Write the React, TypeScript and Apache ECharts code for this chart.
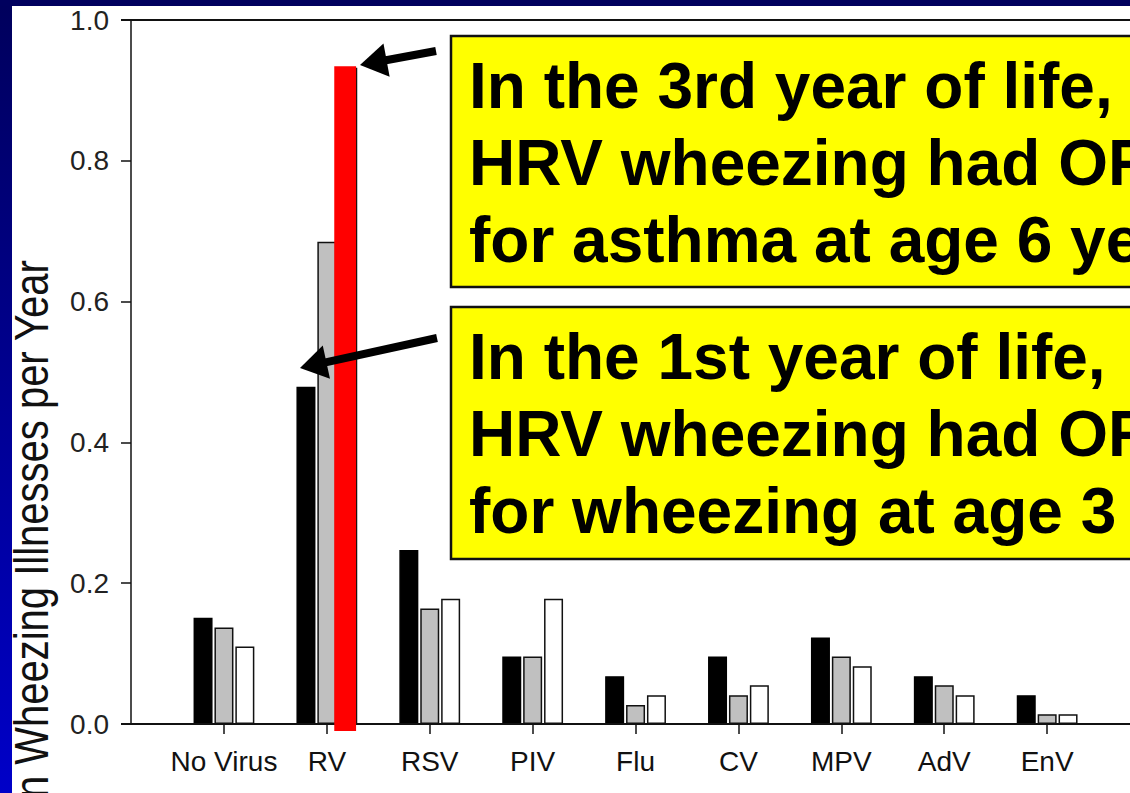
import React, { useEffect, useRef } from 'react';
import * as echarts from 'echarts';

// ---------- data ----------
const categories = ['No Virus', 'RV', 'RSV', 'PIV', 'Flu', 'CV', 'MPV', 'AdV', 'EnV'];
const year1 = [0.151, 0.479, 0.247, 0.096, 0.068, 0.096, 0.123, 0.068, 0.041];
const year2 = [0.137, 0.685, 0.164, 0.096, 0.027, 0.041, 0.096, 0.055, 0.014];
const year3 = [0.110, 0.932, 0.178, 0.178, 0.041, 0.055, 0.082, 0.041, 0.014];
const yMin = 0;
const yMax = 1.0;
const yStep = 0.2;
const highlightCategory = 'RV';
const yAxisTitle = 'Mean Wheezing Illnesses per Year';
const callout1 = ['In the 3rd year of life,', 'HRV wheezing had OR', 'for asthma at age 6 years'];
const callout2 = ['In the 1st year of life,', 'HRV wheezing had OR', 'for wheezing at age 3 years'];

const SANS = '"Liberation Sans", Arial, Helvetica, sans-serif';

function arrow(tail: number[], tip: number[], z: number) {
  const dx = tip[0] - tail[0];
  const dy = tip[1] - tail[1];
  const len = Math.sqrt(dx * dx + dy * dy);
  const ux = dx / len, uy = dy / len;
  const nx = -uy, ny = ux;
  const headLen = 27, halfW = 17;
  const bx = tip[0] - ux * headLen, by = tip[1] - uy * headLen;
  return [
    {
      type: 'polyline',
      z,
      silent: true,
      shape: { points: [tail, [bx + ux * 2, by + uy * 2]] },
      style: { stroke: '#000', lineWidth: 8, fill: null },
    },
    {
      type: 'polygon',
      z,
      silent: true,
      shape: { points: [tip, [bx + nx * halfW, by + ny * halfW], [bx - nx * halfW, by - ny * halfW]] },
      style: { fill: '#000' },
    },
  ];
}

export default function App() {
  const ref = useRef<HTMLDivElement>(null);

  useEffect(() => {
    document.body.style.margin = '0';
    if (!ref.current) return;
    const chart = echarts.init(ref.current, null, { renderer: 'svg' });
    const hiIdx = categories.indexOf(highlightCategory);

    const barBase = { type: 'bar', barWidth: 19, barGap: '10%', z: 3 };
    chart.setOption({
      animation: false,
      backgroundColor: '#ffffff',
      grid: { left: 172.5, right: 31.4, top: 20, bottom: 69, containLabel: false },
      xAxis: {
        type: 'category',
        data: categories,
        axisLine: { show: true, lineStyle: { color: '#111', width: 1.5 } },
        axisTick: { show: true, alignWithLabel: true, length: 10, lineStyle: { color: '#111', width: 1.5 } },
        axisLabel: { color: '#111', fontSize: 28, fontFamily: SANS, margin: 23, interval: 0, hideOverlap: false },
        splitLine: { show: false },
      },
      yAxis: {
        type: 'value',
        min: yMin,
        max: yMax,
        interval: yStep,
        offset: 41.5,
        axisLine: { show: true, lineStyle: { color: '#111', width: 1.5 } },
        axisTick: { show: true, length: 10, lineStyle: { color: '#111', width: 1.5 } },
        axisLabel: {
          color: '#222',
          fontSize: 28,
          fontFamily: SANS,
          margin: 22,
          formatter: (v: number) => v.toFixed(1),
        },
        splitLine: { show: false },
      },
      series: [
        { ...barBase, name: 'Year 1', data: year1, itemStyle: { color: '#000000', borderColor: '#000', borderWidth: 1.5 } },
        { ...barBase, name: 'Year 2', data: year2, itemStyle: { color: '#c0c0c0', borderColor: '#111', borderWidth: 1.5 } },
        { ...barBase, name: 'Year 3', data: year3, itemStyle: { color: '#ffffff', borderColor: '#111', borderWidth: 1.5 } },
        {
          type: 'custom',
          name: 'Highlight',
          z: 6,
          data: [[hiIdx, year3[hiIdx]]],
          encode: { x: 0, y: 1 },
          renderItem: (params: any, api: any) => {
            const top = api.coord([api.value(0), api.value(1)]);
            const base = api.coord([api.value(0), 0]);
            const band = api.size([1, 0])[0];
            const cx = top[0] + band * 0.178;
            const w = band * 0.212;
            return {
              type: 'rect',
              shape: { x: cx - w / 2, y: top[1] - 1.5, width: w, height: base[1] - top[1] + 1.5 + 7 },
              style: { fill: '#ff0000' },
            };
          },
        },
      ],
    });

    const y0 = chart.convertToPixel({ yAxisIndex: 0 }, yMin) as number;
    const y1 = chart.convertToPixel({ yAxisIndex: 0 }, yMax) as number;
    const W = 1130, H = 793;
    const axisX = 131;

    const textStyle = (lines: string[]) => ({
      text: lines.join('\n'),
      font: `bold 64px ${SANS}`,
      fontSize: 64,
      fontWeight: 'bold',
      fontFamily: SANS,
      fill: '#000',
      lineHeight: 77,
      align: 'left',
      textAlign: 'left',
      verticalAlign: 'top',
      textVerticalAlign: 'top',
    });

    chart.setOption({
      graphic: [
        // frame lines extending across the full width
        { type: 'line', z: 4, silent: true, shape: { x1: axisX - 10, y1: y1, x2: W, y2: y1 }, style: { stroke: '#111', lineWidth: 1.8 } },
        { type: 'line', z: 4, silent: true, shape: { x1: axisX - 10, y1: y0, x2: W, y2: y0 }, style: { stroke: '#111', lineWidth: 1.8 } },
        // axis title
        {
          type: 'text',
          z: 4,
          silent: true,
          x: 31,
          y: 568,
          rotation: Math.PI / 2,
          scaleY: 1.18,
          style: {
            text: yAxisTitle,
            fontSize: 40,
            fontFamily: SANS,
            font: `40px ${SANS}`,
            fill: '#111',
            align: 'center',
            textAlign: 'center',
            verticalAlign: 'middle',
            textVerticalAlign: 'middle',
          },
        },
        // callout boxes
        { type: 'rect', z: 50, silent: true, shape: { x: 451, y: 36, width: 720, height: 251 }, style: { fill: '#ffff00', stroke: '#111', lineWidth: 2.5 } },
        { type: 'text', z: 51, silent: true, x: 469, y: 47, style: textStyle(callout1) },
        { type: 'rect', z: 50, silent: true, shape: { x: 451, y: 307, width: 720, height: 252 }, style: { fill: '#ffff00', stroke: '#111', lineWidth: 2.5 } },
        { type: 'text', z: 51, silent: true, x: 469, y: 318, style: textStyle(callout2) },
        // arrows
        ...arrow([436, 51], [360, 65], 60),
        ...arrow([437, 338], [300, 368], 60),
        // slide background strips
        {
          type: 'rect',
          z: 200,
          silent: true,
          shape: { x: 0, y: 0, width: 12, height: H },
          style: {
            fill: new echarts.graphic.LinearGradient(0, 0, 0, 1, [
              { offset: 0, color: '#00005c' },
              { offset: 1, color: '#0000c8' },
            ]),
          },
        },
        { type: 'rect', z: 200, silent: true, shape: { x: 0, y: 0, width: W, height: 6 }, style: { fill: '#00005e' } },
      ],
    });

    return () => {
      chart.dispose();
    };
  }, []);

  return <div ref={ref} style={{ width: 1130, height: 793, overflow: 'hidden' }} />;
}
